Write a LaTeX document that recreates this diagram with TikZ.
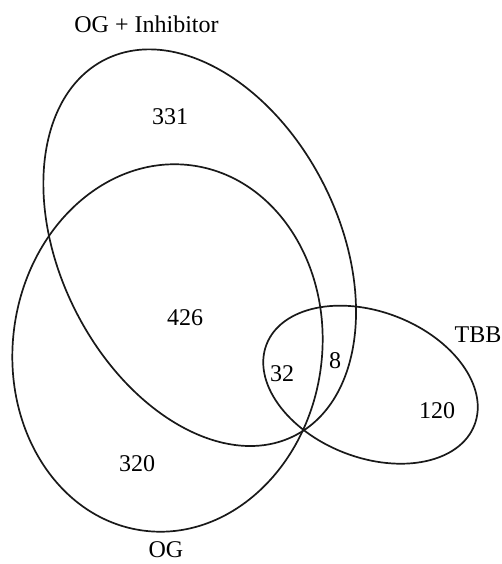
\documentclass[tikz,border=0pt]{standalone}
\usepackage{fontspec}
\setmainfont{Liberation Serif}
\usetikzlibrary{shapes.geometric}
\begin{document}
\begin{tikzpicture}[x=1pt,y=1pt,
  setshape/.style={ellipse, draw=black!90, line width=1.7pt, inner sep=0pt, fill=none},
  lbl/.style={inner sep=0pt, font=\fontsize{24}{28}\selectfont}]
\useasboundingbox (0,0) rectangle (502,564);
\node[setshape, minimum width=421.2pt, minimum height=278.6pt, rotate=-63.3] (A) at (199.7,316.3) {};
\node[setshape, minimum width=368.4pt, minimum height=309.2pt, rotate=82.4] (B) at (167.5,216) {};
\node[setshape, minimum width=223pt, minimum height=145.8pt, rotate=-21.2] (C) at (370.5,179.3) {};
\node[lbl] (tA) at (146.5,540) {OG + Inhibitor};
\node[lbl] (tB) at (166,14) {OG};
\node[lbl] (tC) at (478,229) {TBB};
\node[lbl] (n331) at (170,447) {331};
\node[lbl] (n426) at (185,246) {426};
\node[lbl] (n320) at (137,100) {320};
\node[lbl] (n32) at (282,190) {32};
\node[lbl] (n8) at (335,203) {8};
\node[lbl] (n120) at (437,153) {120};
\end{tikzpicture}
\end{document}
